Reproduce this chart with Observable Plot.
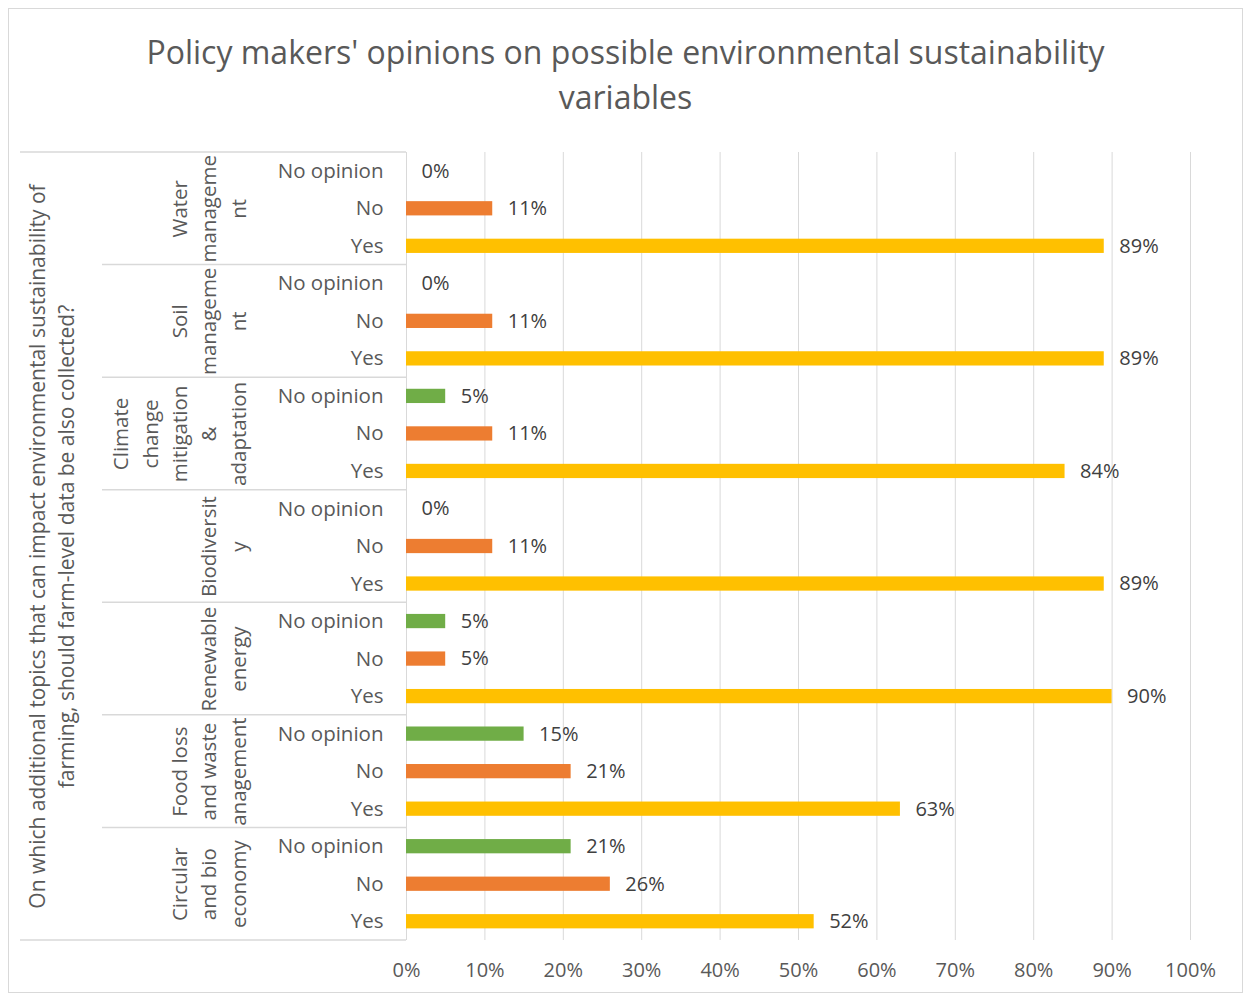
<!DOCTYPE html>
<html><head><meta charset="utf-8">
<script src="https://cdn.jsdelivr.net/npm/d3@7"></script>
<script src="https://cdn.jsdelivr.net/npm/@observablehq/plot@0.6"></script>
<style>
body{margin:0;background:#fff;font-family:"Open Sans",sans-serif;}
#wrap{position:relative;width:1251px;height:997px;overflow:hidden;background:#fff}
#frame{position:absolute;left:8px;top:8px;width:1233px;height:983px;border:1px solid #d9d9d9}
#title{position:absolute;left:0;width:1251px;top:29px;text-align:center;font-size:32px;line-height:45px;color:#595959}
#chart{position:absolute;left:0;top:130px}
#chart svg{overflow:visible;font-family:"Open Sans",sans-serif}
</style></head><body>
<div id="wrap"><div id="frame"></div>
<div id="title">Policy makers' opinions on possible environmental sustainability<br>variables</div>
<div id="chart"></div></div>
<script>
// ---- data ----
const groups = ["Water management","Soil management","Climate change mitigation & adaptation","Biodiversity","Renewable energy","Food loss and waste management","Circular and bio economy"];
const groupLabels = ["Water\nmanageme\nnt","Soil\nmanageme\nnt","Climate\nchange\nmitigation\n&\nadaptation","Biodiversit\ny","Renewable\nenergy","Food loss\nand waste\nanagement","Circular\nand bio\neconomy"];
const responses = ["No opinion","No","Yes"];
const noOpinion = [0,0,5,0,5,15,21];
const no = [11,11,11,11,5,21,26];
const yes = [89,89,84,89,90,63,52];
const xTicks = [0,0.1,0.2,0.3,0.4,0.5,0.6,0.7,0.8,0.9,1];
const question = "On which additional topics that can impact environmental sustainability of\nfarming, should farm-level data be also collected?";
const colors = ["#70AD47","#ED7D31","#FFC000"];

const series = [noOpinion, no, yes];
const data = [];
groups.forEach((g, i) => responses.forEach((r, j) => data.push({group: g, response: r, key: g + "|" + r, value: series[j][i] / 100, pct: series[j][i]})));
const keys = data.map(d => d.key);
const groupData = groups.map((g, i) => ({group: g, label: groupLabels[i], mid: g + "|No"}));

const chart = Plot.plot({
  width: 1251, height: 867,
  marginLeft: 406, marginRight: 61, marginTop: 22, marginBottom: 57,
  x: {domain: [0, 1], axis: null},
  y: {domain: keys, paddingInner: 0.62, paddingOuter: 0.31, round: false, axis: null},
  color: {domain: responses, range: colors},
  marks: [
    Plot.ruleX(xTicks, {x: d => d, stroke: "#d9d9d9", strokeWidth: 1}),
    Plot.barX(data, {x: "value", y: "key", fill: "response"}),
    Plot.text(data, {x: "value", y: "key", text: d => d.pct + "%", textAnchor: "start", dx: 15, fill: "#404040", fontSize: 20}),
    Plot.text(data, {x: 0, y: "key", text: "response", textAnchor: "end", dx: -23, fill: "#595959", fontSize: 20.5}),
    Plot.text(groupData, {x: 0, y: "mid", text: "label", rotate: -90, textAnchor: "middle", lineAnchor: "bottom", lineHeight: 1.43, dx: -161, fill: "#595959", fontSize: 20.5}),
    Plot.text([question], {x: 0, y: [groups[3] + "|No"], text: d => d, rotate: -90, textAnchor: "middle", lineAnchor: "bottom", lineHeight: 1.36, dx: -333, fill: "#595959", fontSize: 21}),
    Plot.text(xTicks, {x: d => d, frameAnchor: "bottom", dy: 36, text: d => Math.round(d * 100) + "%", fill: "#595959", fontSize: 20})
  ]
});
document.getElementById("chart").appendChild(chart);

// category table separator lines derived from the y band scale
const ys = chart.scale("y");
const xs = chart.scale("x");
const half = (ys.step - ys.bandwidth) / 2;
const svg = d3.select(chart);
const x0 = xs.apply(0);
const sep = [];
groups.forEach((g, i) => sep.push({y: ys.apply(g + "|" + responses[0]) - half, x1: i === 0 ? 20 : 102}));
sep.push({y: ys.apply(groups[groups.length - 1] + "|" + responses[2]) + ys.bandwidth + half, x1: 20});
svg.append("g").selectAll("line").data(sep).join("line")
  .attr("x1", d => d.x1).attr("x2", x0).attr("y1", d => d.y).attr("y2", d => d.y)
  .attr("stroke", "#d9d9d9").attr("stroke-width", 1.5);
</script>
</body></html>
